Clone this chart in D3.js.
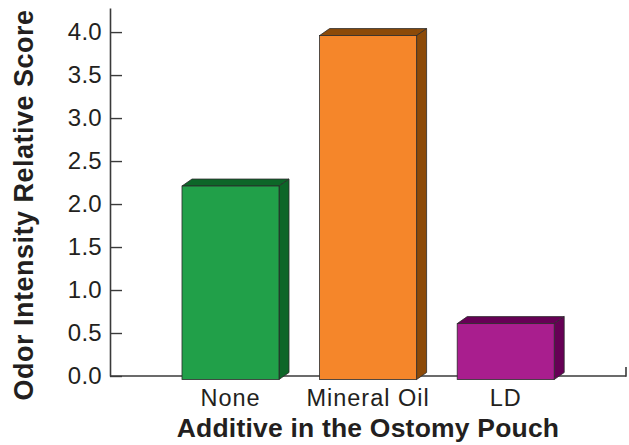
<!DOCTYPE html>
<html>
<head>
<meta charset="utf-8">
<script src="https://cdn.jsdelivr.net/npm/d3@7"></script>
<style>
  html, body { margin: 0; padding: 0; background: #fff; }
  svg { display: block; font-family: "Liberation Sans", Arial, Helvetica, sans-serif; }
</style>
</head>
<body>
<svg id="chart" width="629" height="445"></svg>
<script>
// Odor intensity by pouch additive
const categories = ["None", "Mineral Oil", "LD"];
const scores = [2.25, 4.0, 0.65];
const frontColors = ["#21a049", "#f5862a", "#a91e8e"];
const shadeColors = ["#0d6628", "#8c4a08", "#660055"];
const yTicks = [0, 0.5, 1, 1.5, 2, 2.5, 3, 3.5, 4];

const svg = d3.select("#chart");
const ink = "#231f20";
const axisInk = "#3a3a3a";

const y = d3.scaleLinear().domain([0, 4.28]).range([376, 8]);
const x = d3.scaleBand()
  .domain(categories)
  .range([161.7, 574.5])
  .paddingInner(0.295)
  .paddingOuter(0.1475);

const depthX = 10, depthY = 7;

// y axis with inward ticks
const yAxis = d3.axisLeft(y)
  .tickValues(yTicks)
  .tickFormat(d3.format(".1f"))
  .tickSizeInner(-12)
  .tickSizeOuter(0)
  .tickPadding(20);

const gy = svg.append("g").attr("transform", "translate(110,0)").call(yAxis);
gy.select(".domain").attr("stroke", axisInk).attr("stroke-width", 1.6);
gy.selectAll(".tick line").attr("stroke", axisInk).attr("stroke-width", 1.4);
gy.selectAll(".tick text")
  .attr("fill", ink)
  .style("font-size", "24px")
  .style("letter-spacing", "0.3px")
  .attr("x", -8);

// x axis baseline with closing tick at the right end
const xEnd = 626;
svg.append("line")
  .attr("x1", 110).attr("x2", xEnd)
  .attr("y1", y(0)).attr("y2", y(0))
  .attr("stroke", axisInk).attr("stroke-width", 1.4);
svg.append("line")
  .attr("x1", xEnd).attr("x2", xEnd)
  .attr("y1", y(0) - 9).attr("y2", y(0) + 0.7)
  .attr("stroke", axisInk).attr("stroke-width", 1.6);

// 3D bars: front face, top face and side face
const bars = svg.append("g").selectAll("g")
  .data(categories.map((c, i) => ({ c, v: scores[i], i })))
  .join("g");

bars.each(function (d) {
  const g = d3.select(this);
  const x0 = x(d.c);
  const bw = x.bandwidth();
  const top = y(d.v) + depthY / 2;
  const bottom = y(0) + depthY / 2;
  const stroke = "#2b2b2b";

  g.append("path")
    .attr("d", `M${x0},${top} L${x0 + depthX},${top - depthY} L${x0 + bw + depthX},${top - depthY} L${x0 + bw},${top} Z`)
    .attr("fill", shadeColors[d.i]).attr("stroke", stroke).attr("stroke-width", 0.8).attr("stroke-linejoin", "round");

  g.append("path")
    .attr("d", `M${x0 + bw},${top} L${x0 + bw + depthX},${top - depthY} L${x0 + bw + depthX},${bottom - depthY} L${x0 + bw},${bottom} Z`)
    .attr("fill", shadeColors[d.i]).attr("stroke", stroke).attr("stroke-width", 0.8).attr("stroke-linejoin", "round");

  g.append("rect")
    .attr("x", x0).attr("y", top)
    .attr("width", bw).attr("height", bottom - top)
    .attr("fill", frontColors[d.i]).attr("stroke", stroke).attr("stroke-width", 0.8);
});

// category labels
svg.append("g").selectAll("text")
  .data(categories)
  .join("text")
  .attr("x", d => x(d) + x.bandwidth() / 2)
  .attr("y", 406)
  .attr("text-anchor", "middle")
  .attr("fill", ink)
  .style("font-size", "23.5px")
  .style("letter-spacing", "1px")
  .text(d => d);

// axis titles
svg.append("text")
  .attr("x", 368).attr("y", 437)
  .attr("text-anchor", "middle")
  .attr("fill", ink)
  .style("font-size", "26.5px")
  .style("font-weight", "bold")
  .style("letter-spacing", "0.2px")
  .text("Additive in the Ostomy Pouch");

svg.append("text")
  .attr("transform", "translate(33,205) rotate(-90)")
  .attr("text-anchor", "middle")
  .attr("fill", ink)
  .style("font-size", "27px")
  .style("font-weight", "bold")
  .style("letter-spacing", "0.5px")
  .text("Odor Intensity Relative Score");
</script>
</body>
</html>
